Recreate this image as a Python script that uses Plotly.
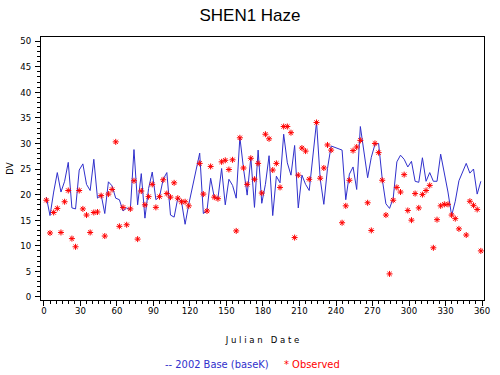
import plotly.graph_objects as go

days = [2, 5, 8, 11, 14, 17, 20, 23, 26, 29, 32, 35, 38, 41, 44, 47, 50, 53, 56, 59,
        62, 65, 68, 71, 74, 77, 80, 83, 86, 89, 92, 95, 98, 101, 104, 107, 110, 113, 116, 119,
        128, 131, 134, 137, 140, 143, 146, 149, 152, 155, 158, 161, 164, 167, 170, 173, 176, 179, 182, 185,
        188, 191, 194, 197, 200, 203, 206, 209, 212, 215, 218, 224, 227, 230, 233, 236,
        245, 248, 251, 254, 257, 260, 266, 269, 272, 275, 278, 281, 284, 287, 290, 293, 296, 299, 302,
        305, 308, 311, 314, 317, 320, 323, 326, 329, 332, 335, 338, 341, 347, 350, 353, 356, 359]

observed = [18.9, 12.5, 16.5, 17.3, 12.6, 18.6, 20.8, 11.4, 9.8, 20.8, 17.2, 16.0, 12.6, 16.5, 16.6, 19.8, 11.9, 20.1, 21.0, 30.3,
            13.8, 17.5, 14.1, 17.2, 22.7, 11.3, 20.7, 18.0, 19.6, 22.0, 17.5, 19.6, 22.9, 20.2, 19.5, 22.3, 19.3, 18.6, 18.6, 17.8,
            26.1, 20.1, 16.8, 25.5, 19.5, 19.2, 26.4, 26.7, 24.9, 26.8, 12.9, 31.1, 25.2, 22.0, 27.1, 23.0, 26.1, 20.3, 31.8, 30.9,
            24.8, 26.1, 21.4, 33.3, 33.3, 32.1, 11.6, 23.8, 29.1, 28.5, 23.0, 34.1, 23.2, 25.2, 29.7, 28.7,
            14.5, 17.8, 22.8, 28.6, 29.3, 30.6, 18.4, 13.0, 30.0, 28.2, 22.8, 16.0, 4.5, 18.9, 21.4, 20.5, 23.9, 16.9, 15.0,
            20.2, 17.4, 20.0, 20.8, 21.8, 9.6, 15.1, 17.8, 18.1, 18.1, 16.0, 15.3, 13.3, 12.1, 18.7, 17.9, 17.1, 9.0]

base = [19.5, 15.9, 20.5, 24.3, 20.5, 22.6, 26.3, 17.4, 17.2, 24.8, 26.0, 22.0, 20.8, 26.9, 19.3, 20.0, 16.3, 22.5, 21.7, 19.3,
        19.0, 16.8, 17.4, 17.0, 28.8, 18.0, 24.1, 15.4, 21.2, 24.4, 19.0, 19.6, 23.0, 24.3, 16.0, 15.6, 19.3, 18.7, 14.2, 18.1,
        28.1, 16.3, 16.9, 23.2, 19.4, 19.3, 25.1, 18.0, 23.0, 21.8, 19.3, 31.2, 25.1, 19.9, 27.3, 17.5, 28.7, 18.3, 22.0, 27.6,
        15.9, 23.6, 22.3, 31.8, 26.2, 23.8, 29.6, 17.4, 23.8, 22.0, 20.8, 34.2, 23.1, 18.1, 25.1, 29.5,
        28.7, 19.0, 24.0, 25.4, 21.0, 33.3, 23.3, 27.3, 29.8, 30.0, 23.0, 18.2, 17.3, 19.3, 26.4, 27.7, 26.9, 25.4, 26.5,
        22.6, 22.4, 27.2, 22.6, 24.3, 22.6, 22.6, 27.9, 24.3, 20.5, 15.9, 18.7, 22.7, 26.1, 24.2, 25.0, 20.1, 22.6]

x_ticks = list(range(0, 361, 30))
y_ticks = list(range(0, 51, 5))

FONT = "DejaVu Sans Condensed, Liberation Sans, sans-serif"

fig = go.Figure()
fig.add_trace(go.Scatter(
    x=days, y=base, mode="lines", name="2002 Base (baseK)",
    line=dict(color="#3030cc", width=1),
))
fig.add_trace(go.Scatter(
    x=days, y=observed, mode="markers", name="Observed",
    marker=dict(symbol="asterisk-open", size=5, color="red",
                line=dict(color="red", width=1)),
))

tickfont = dict(family=FONT, size=9.5, color="black")

fig.update_layout(
    width=500, height=375,
    margin=dict(l=37, r=10, t=37, b=75),
    paper_bgcolor="white", plot_bgcolor="white",
    showlegend=False,
    title=dict(text="SHEN1 Haze", x=0.5, xanchor="center", y=0.96, yanchor="middle",
               font=dict(family="Liberation Sans, Arial, sans-serif", size=17, color="black")),
    xaxis=dict(
        range=[-2.4, 361.6], tickmode="array", tickvals=x_ticks,
        ticktext=[str(t) for t in x_ticks],
        showgrid=False, zeroline=False, showline=True, linecolor="black", linewidth=1,
        mirror=True, ticks="outside", ticklen=5, tickcolor="black", tickfont=tickfont,
        ticklabelstandoff=-3,
        minor=dict(dtick=5, tick0=0, ticks="outside", ticklen=3, tickcolor="black"),
        title=dict(text="J u l i a n   D a t e", standoff=20,
                   font=dict(family=FONT, size=9.5, color="black")),
    ),
    yaxis=dict(
        range=[-0.6, 50.8], tickmode="array", tickvals=y_ticks,
        ticktext=[str(t) for t in y_ticks],
        showgrid=False, zeroline=False, showline=True, linecolor="black", linewidth=1,
        mirror=True, ticks="outside", ticklen=5, tickcolor="black", tickfont=tickfont,
        ticklabelstandoff=2,
        minor=dict(dtick=1, tick0=0, ticks="outside", ticklen=3, tickcolor="black"),
        title=dict(text="DV", standoff=4,
                   font=dict(family=FONT, size=9.5, color="black")),
    ),
)

fig.add_annotation(text="-- 2002 Base (baseK)", xref="paper", yref="paper",
                   x=0.519, y=-0.247, xanchor="right", yanchor="middle", showarrow=False,
                   font=dict(family=FONT, size=11, color="#3030cc"))
fig.add_annotation(text="* Observed", xref="paper", yref="paper",
                   x=0.543, y=-0.247, xanchor="left", yanchor="middle", showarrow=False,
                   font=dict(family=FONT, size=11, color="red"))

fig.write_html("out.html", config={"displayModeBar": False},
               post_script="document.body.style.margin='0';")
